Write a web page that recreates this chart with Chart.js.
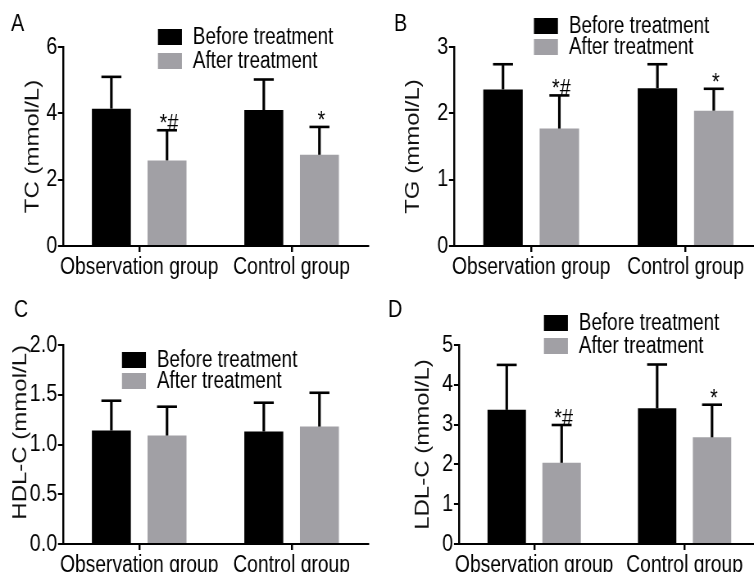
<!DOCTYPE html>
<html>
<head>
<meta charset="utf-8">
<script src="https://cdn.jsdelivr.net/npm/chart.js@4.4.1/dist/chart.umd.min.js"></script>
<style>
  html, body { margin: 0; padding: 0; background: #fff; overflow: hidden; }
  #wrap { position: relative; width: 754px; height: 572px; overflow: hidden; }
  canvas { position: absolute; }
</style>
</head>
<body>
<div id="wrap">
  <canvas id="cA" style="left:0;top:0"></canvas>
  <canvas id="cB" style="left:377px;top:0"></canvas>
  <canvas id="cC" style="left:0;top:286px"></canvas>
  <canvas id="cD" style="left:377px;top:286px"></canvas>
</div>
<script>
const FONT = "'Liberation Sans', Arial, sans-serif";
const BLACK = '#000000';
const GREY = '#a1a0a5';
// the original figure is squeezed horizontally; draw wide, show narrow
const K = 0.82;

const groups = ['Observation group', 'Control group'];
const seriesNames = ['Before treatment', 'After treatment'];

// A - TC
const tcBefore = [4.14, 4.10];
const tcBeforeSd = [0.96, 0.92];
const tcAfter = [2.58, 2.75];
const tcAfterSd = [0.91, 0.84];
const tcMarks = ['*#', '*'];
const tcTicks = [0, 2, 4, 6];

// B - TG
const tgBefore = [2.36, 2.38];
const tgBeforeSd = [0.38, 0.36];
const tgAfter = [1.77, 2.04];
const tgAfterSd = [0.50, 0.33];
const tgMarks = ['*#', '*'];
const tgTicks = [0, 1, 2, 3];

// C - HDL-C
const hdlBefore = [1.14, 1.13];
const hdlBeforeSd = [0.30, 0.29];
const hdlAfter = [1.09, 1.18];
const hdlAfterSd = [0.29, 0.34];
const hdlMarks = ['', ''];
const hdlTicks = [0, 0.5, 1.0, 1.5, 2.0];

// D - LDL-C
const ldlBefore = [3.37, 3.41];
const ldlBeforeSd = [1.13, 1.10];
const ldlAfter = [2.04, 2.68];
const ldlAfterSd = [0.95, 0.82];
const ldlMarks = ['*#', '*'];
const ldlTicks = [0, 1, 2, 3, 4, 5];

// error bars (upper only, GraphPad style) + significance marks
const errorBars = {
    id: 'errorBars',
    afterDatasetsDraw(chart) {
        const ctx = chart.ctx;
        const yScale = chart.scales.y;
        ctx.save();
        ctx.strokeStyle = BLACK;
        ctx.fillStyle = BLACK;
        ctx.font = `24px ${FONT}`;
        ctx.textAlign = 'center';
        ctx.textBaseline = 'alphabetic';
        chart.data.datasets.forEach((ds, i) => {
            chart.getDatasetMeta(i).data.forEach((bar, j) => {
                const top = yScale.getPixelForValue(ds.data[j] + ds.sd[j]);
                // stem
                ctx.lineWidth = 2.6 / K;
                ctx.beginPath();
                ctx.moveTo(bar.x, bar.y);
                ctx.lineTo(bar.x, top);
                ctx.stroke();
                // cap
                ctx.lineWidth = 2.6;
                ctx.beginPath();
                ctx.moveTo(bar.x - 10 / K, top);
                ctx.lineTo(bar.x + 10 / K, top);
                ctx.stroke();
                if (ds.marks && ds.marks[j]) {
                    ctx.fillText(ds.marks[j], bar.x + 2 / K, top + 1);
                }
            });
        });
        ctx.restore();
    }
};

// legend boxes + panel letter
const panelDecor = {
    id: 'panelDecor',
    afterDraw(chart, args, opts) {
        const ctx = chart.ctx;
        ctx.save();
        ctx.fillStyle = BLACK;
        ctx.font = `24px ${FONT}`;
        ctx.textBaseline = 'alphabetic';
        ctx.fillText(opts.letter, opts.letterX / K, 31);

        ctx.font = `23px ${FONT}`;
        ctx.textBaseline = 'middle';
        chart.data.datasets.forEach((ds, i) => {
            const y = opts.legendY + i * opts.legendStep;
            ctx.fillStyle = ds.backgroundColor;
            ctx.fillRect(opts.legendX / K, y, 24 / K, 16);
            ctx.fillStyle = BLACK;
            ctx.fillText(ds.label, (opts.legendX + 35) / K, y + 9);
        });
        ctx.restore();
    }
};

function makePanel(p) {
    const canvas = document.getElementById(p.id);
    canvas.width = Math.round(p.cssWidth / K);
    canvas.height = 286;
    canvas.style.width = p.cssWidth + 'px';
    canvas.style.height = '286px';
    const decimals = p.decimals || 0;
    const titleSize = 24;
    return new Chart(canvas, {
        type: 'bar',
        data: {
            labels: groups,
            datasets: [
                { label: seriesNames[0], data: p.before, sd: p.beforeSd, backgroundColor: BLACK },
                { label: seriesNames[1], data: p.after, sd: p.afterSd, marks: p.marks, backgroundColor: GREY }
            ]
        },
        options: {
            responsive: false,
            animation: false,
            devicePixelRatio: 1,
            categoryPercentage: 0.73,
            barPercentage: 0.7,
            layout: {
                padding: { left: 0, top: p.top, right: canvas.width - p.right / K, bottom: 0 }
            },
            plugins: {
                legend: { display: false },
                tooltip: { enabled: false },
                panelDecor: {
                    letter: p.letter, letterX: p.letterX,
                    legendX: p.legendX, legendY: p.legendY, legendStep: p.legendStep
                }
            },
            scales: {
                x: {
                    grid: { offset: false, drawOnChartArea: false, tickLength: 6, color: BLACK, lineWidth: 2 / K },
                    border: { color: BLACK, width: 2 },
                    ticks: { color: BLACK, font: { family: FONT, size: 23.5 }, padding: 1, maxRotation: 0, autoSkip: false },
                    afterFit(scale) { scale.height = canvas.height - p.bottom; }
                },
                y: {
                    min: p.ticks[0],
                    max: p.ticks[p.ticks.length - 1],
                    grid: { drawOnChartArea: false, tickLength: 5 / K, color: BLACK, lineWidth: 2 },
                    border: { color: BLACK, width: 2 / K },
                    ticks: {
                        color: BLACK, font: { family: FONT, size: 24 }, padding: 1,
                        callback: (v) => Number(v).toFixed(decimals)
                    },
                    afterBuildTicks(scale) { scale.ticks = p.ticks.map(v => ({ value: v })); },
                    title: {
                        display: true, text: p.title, color: '#111',
                        align: p.titleAlign || 'center',
                        font: { family: FONT, size: titleSize },
                        padding: { top: p.titleX / K - titleSize * 0.6, bottom: 0 }
                    },
                    afterFit(scale) { scale.width = p.left / K; }
                }
            }
        },
        plugins: [errorBars, panelDecor]
    });
}

makePanel({ id: 'cA', letter: 'A', title: 'TC (mmol/L)', before: tcBefore, beforeSd: tcBeforeSd,
    after: tcAfter, afterSd: tcAfterSd, marks: tcMarks, ticks: tcTicks, cssWidth: 377,
    left: 63, top: 47, bottom: 246, right: 368, titleX: 33, letterX: 11,
    legendX: 158, legendY: 29, legendStep: 24 });

makePanel({ id: 'cB', letter: 'B', title: 'TG (mmol/L)', before: tgBefore, beforeSd: tgBeforeSd,
    after: tgAfter, afterSd: tgAfterSd, marks: tgMarks, ticks: tgTicks, cssWidth: 386,
    left: 77, top: 47, bottom: 246, right: 386, titleX: 36, letterX: 17,
    legendX: 157, legendY: 18, legendStep: 21 });

makePanel({ id: 'cC', letter: 'C', title: 'HDL-C (mmol/L)', before: hdlBefore, beforeSd: hdlBeforeSd,
    after: hdlAfter, afterSd: hdlAfterSd, marks: hdlMarks, ticks: hdlTicks, decimals: 1, cssWidth: 377,
    left: 63, top: 59, bottom: 258, right: 368, titleX: 21, titleAlign: 'end', letterX: 14,
    legendX: 122, legendY: 66, legendStep: 21 });

makePanel({ id: 'cD', letter: 'D', title: 'LDL-C (mmol/L)', before: ldlBefore, beforeSd: ldlBeforeSd,
    after: ldlAfter, afterSd: ldlAfterSd, marks: ldlMarks, ticks: ldlTicks, cssWidth: 386,
    left: 82, top: 59, bottom: 258, right: 383, titleX: 46, letterX: 11,
    legendX: 167, legendY: 29, legendStep: 23 });
</script>
</body>
</html>
